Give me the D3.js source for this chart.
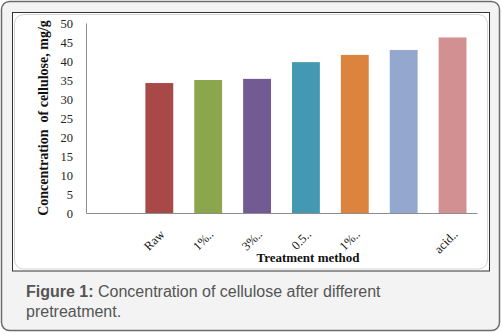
<!DOCTYPE html>
<html><head><meta charset="utf-8">
<script src="https://cdn.jsdelivr.net/npm/d3@7"></script>
<style>html,body{margin:0;padding:0;background:#fff;}svg{display:block;}</style>
</head><body>
<script>
const categories = ["", "Raw", "1%..", "3%..", "0.5..", "1%..", " ", "acid.."];
const values = [null, 34.2, 35.0, 35.3, 39.7, 41.6, 42.9, 46.2];
const colors = [null, "#a84947", "#8ba64d", "#725a92", "#4399b1", "#dc843e", "#94a8cf", "#d39092"];
const yTicks = [0, 5, 10, 15, 20, 25, 30, 35, 40, 45, 50];
const yTitle = "Concentration  of cellulose, mg/g";
const xTitle = "Treatment method";
const captionBold = "Figure 1:";
const captionLine1 = " Concentration of cellulose after different";
const captionLine2 = "pretreatment.";

const W = 502, H = 333;
const svg = d3.select("body").append("svg").attr("width", W).attr("height", H);

// outer frame
svg.append("rect").attr("x", 1.5).attr("y", 1.5).attr("width", 498).attr("height", 329)
  .attr("rx", 8).attr("fill", "#f2f3f2").attr("stroke", "#6b6b6b").attr("stroke-width", 1.5);
// inner chart box
svg.append("rect").attr("x", 12.5).attr("y", 12.5).attr("width", 477).attr("height", 258.5)
  .attr("fill", "#fff").attr("stroke", "#333").attr("stroke-width", 1);
svg.append("rect").attr("x", 14.5).attr("y", 14.5).attr("width", 473).attr("height", 254.5)
  .attr("rx", 9).attr("fill", "#fff").attr("stroke", "#d4d4d4").attr("stroke-width", 1);

const x = d3.scaleBand().domain(d3.range(categories.length)).range([86, 477]).paddingInner(0.43).paddingOuter(0.215);
const y = d3.scaleLinear().domain([0, 50]).range([213, 23]);

// bars
svg.append("g").selectAll("rect").data(values.map((v, i) => ({v, i})).filter(d => d.v != null))
  .join("rect")
  .attr("x", d => x(d.i)).attr("width", x.bandwidth())
  .attr("y", d => y(d.v)).attr("height", d => y(0) - y(d.v))
  .attr("fill", d => colors[d.i]);

// axes
const yAxis = d3.axisLeft(y).tickValues(yTicks).tickSize(0).tickPadding(13);
const gy = svg.append("g").attr("transform", "translate(86,0)").call(yAxis);
gy.select(".domain").attr("stroke", "#8c8c8c");
gy.selectAll("text").attr("font-family", "Liberation Serif, Times New Roman, serif")
  .attr("font-size", 12.5).attr("fill", "#222");

const xAxis = d3.axisBottom(x).tickFormat(i => categories[i]).tickSize(0).tickSizeOuter(0);
const gx = svg.append("g").attr("transform", "translate(0,213)").call(xAxis);
gx.select(".domain").attr("stroke", "#8c8c8c");
gx.selectAll("text")
  .attr("font-family", "Liberation Serif, Times New Roman, serif").attr("font-size", 12.5).attr("fill", "#111")
  .attr("text-anchor", "end").attr("dy", null).attr("y", null)
  .attr("transform", "translate(6,22) rotate(-45)");

// titles
svg.append("text").attr("x", 308).attr("y", 261.5).attr("text-anchor", "middle")
  .attr("font-family", "Liberation Serif, Times New Roman, serif").attr("font-weight", "bold")
  .attr("font-size", 13).attr("fill", "#111").text(xTitle);
svg.append("text").attr("transform", "translate(47.5,118) rotate(-90)").attr("text-anchor", "middle")
  .attr("font-family", "Liberation Serif, Times New Roman, serif").attr("font-weight", "bold")
  .attr("font-size", 14).attr("fill", "#111").attr("xml:space", "preserve").style("white-space", "pre").text(yTitle);

// caption
const cap = svg.append("text").attr("x", 26).attr("y", 297)
  .attr("font-family", "Liberation Sans, Arial, sans-serif").attr("font-size", 16).attr("fill", "#555");
cap.append("tspan").attr("font-weight", "bold").text(captionBold);
cap.append("tspan").text(captionLine1);
svg.append("text").attr("x", 26).attr("y", 317)
  .attr("font-family", "Liberation Sans, Arial, sans-serif").attr("font-size", 16).attr("fill", "#555")
  .text(captionLine2);
</script>
</body></html>
